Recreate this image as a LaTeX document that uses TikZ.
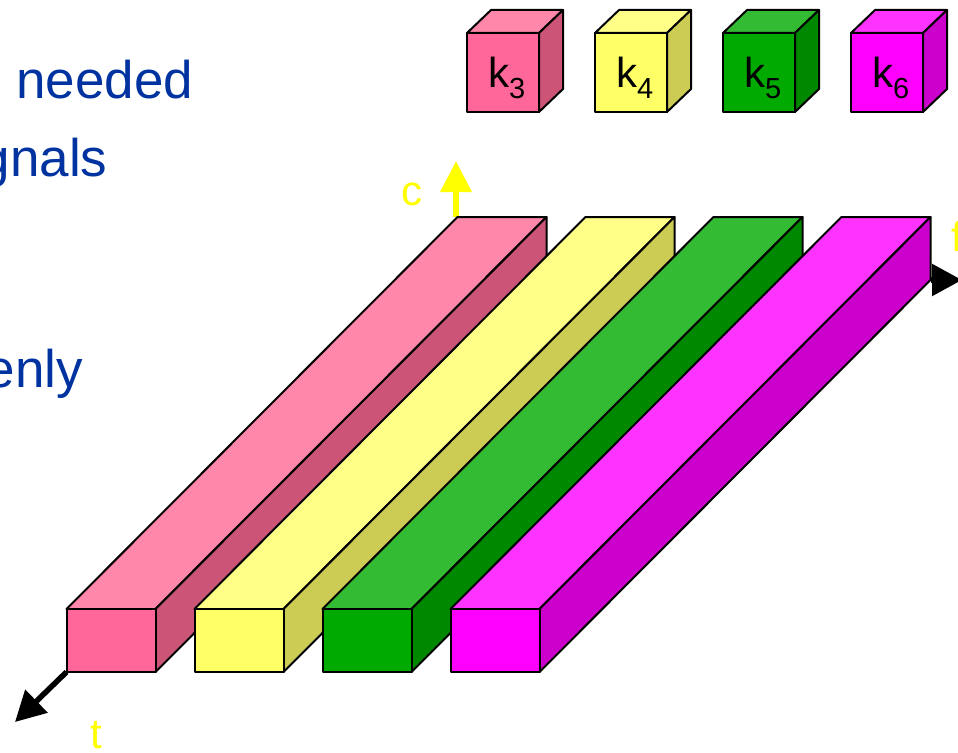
\documentclass[tikz,border=0pt]{standalone}
\usepackage{fontspec}
\setmainfont{Liberation Sans}
\usetikzlibrary{arrows.meta}
\definecolor{pkF}{HTML}{FF6699}
\definecolor{pkT}{HTML}{FF88AA}
\definecolor{pkS}{HTML}{CC5577}
\definecolor{ylF}{HTML}{FFFF66}
\definecolor{ylT}{HTML}{FFFF88}
\definecolor{ylS}{HTML}{CCCC55}
\definecolor{gnF}{HTML}{00AA00}
\definecolor{gnT}{HTML}{33BB33}
\definecolor{gnS}{HTML}{008800}
\definecolor{mgF}{HTML}{FF00FF}
\definecolor{mgT}{HTML}{FF33FF}
\definecolor{mgS}{HTML}{CC00CC}
\definecolor{bodyblue}{HTML}{0033A0}
\definecolor{axisyellow}{HTML}{FFFF00}
\begin{document}
\begin{tikzpicture}[x=1pt,y=-1pt,
  face/.style={draw=black,line width=2pt,line join=round},
  bodytext/.style={inner sep=0pt,text=bodyblue,font=\fontsize{53}{60}\selectfont},
  axislabel/.style={inner sep=0pt,text=axisyellow,font=\fontsize{42}{48}\selectfont},
  cubelabel/.style={inner sep=0pt,text=black,font=\fontsize{42}{48}\selectfont},
  blackaxis/.style={draw=black,line width=5.5pt,-{Triangle[length=30pt,width=31pt]}},
  yellowaxis/.style={draw=axisyellow,fill=axisyellow,line width=6.5pt,-{Triangle[length=31pt,width=30pt]}}]
\useasboundingbox (0,0) rectangle (958,752);
\begin{scope}
\clip (0,0) rectangle (958,752);
% body text fragments
\node[bodytext,anchor=base west] (tneeded) at (16,99) {needed};
\node[bodytext,anchor=base east] (tgnals) at (107.5,176) {gnals};
\node[bodytext,anchor=base east] (tenly) at (83,387) {enly};

% c axis (behind the bars)
\coordinate (cS) at (456,217);
\coordinate (cE) at (456,161);
\draw[yellowaxis] (cS) -- (cE);
\node[axislabel,anchor=base west] (clab) at (401,205) {c};

% bars
\foreach \i/\F/\T/\S in {0/pkF/pkT/pkS,1/ylF/ylT/ylS,2/gnF/gnT/gnS,3/mgF/mgT/mgS}{
  \pgfmathsetmacro\xa{66.5+128*\i}
  \pgfmathsetmacro\xb{\xa+89}
  \draw[face,fill=\T] (\xa,609) -- (\xb,609) -- ++(391,-392) -- ++(-89,0) -- cycle;
  \draw[face,fill=\S] (\xb,609) -- (\xb,672) -- ++(391,-392) -- ++(0,-63) -- cycle;
  \draw[face,fill=\F] (\xa,609) rectangle (\xb,672);
}

% f axis
\coordinate (fS) at (931,280);
\coordinate (fE) at (962,280);
\draw[blackaxis] (fS) -- (fE);
\node[axislabel,anchor=base west] (flab) at (951,251) {f};

% t axis
\coordinate (tS) at (66.5,672);
\coordinate (tE) at (15,722);
\draw[blackaxis] (tS) -- (tE);
\node[axislabel,anchor=base west] (tlab) at (90,748) {t};

% cubes
\foreach \i/\F/\T/\S/\n in {0/pkF/pkT/pkS/3,1/ylF/ylT/ylS/4,2/gnF/gnT/gnS/5,3/mgF/mgT/mgS/6}{
  \pgfmathsetmacro\xa{467+128*\i}
  \pgfmathsetmacro\xb{\xa+72}
  \draw[face,fill=\T] (\xa,33) -- (\xb,33) -- ++(24,-23) -- ++(-72,0) -- cycle;
  \draw[face,fill=\S] (\xb,33) -- (\xb,112) -- ++(24,-23) -- ++(0,-79) -- cycle;
  \draw[face,fill=\F] (\xa,33) rectangle (\xb,112);
  \node[cubelabel,anchor=base west] (k\n) at (\xa+21,87) {k\raisebox{-11pt}{\fontsize{29}{32}\selectfont\n}};
}
\end{scope}
\end{tikzpicture}
\end{document}
